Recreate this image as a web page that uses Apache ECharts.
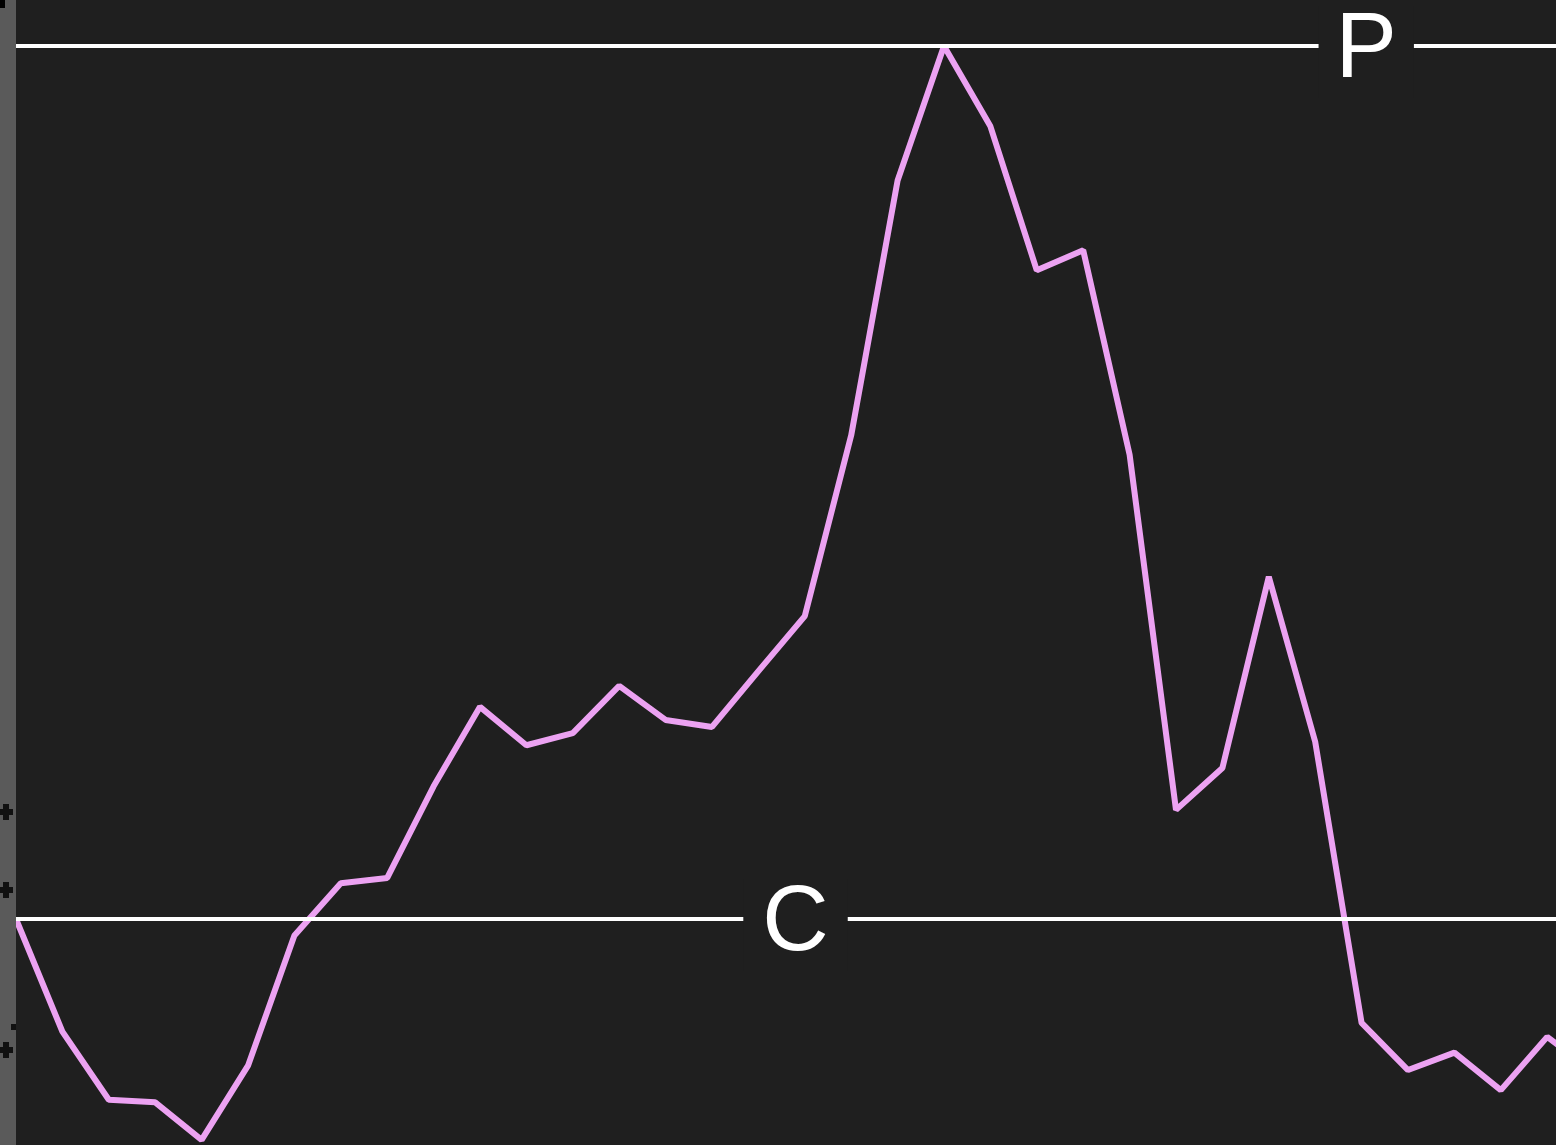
<!DOCTYPE html>
<html>
<head>
<meta charset="utf-8">
<script src="https://cdn.jsdelivr.net/npm/echarts@6/dist/echarts.min.js"></script>
<style>
html,body{margin:0;padding:0;background:#1f1f1f;}
#c{width:1556px;height:1145px;}
</style>
</head>
<body>
<div id="c"></div>
<script>
// x positions (sample index) and values in % of the C→P range (C = 0, P = 100)
const steps = [0,1,2,3,4,5,6,7,8,9,10,11,12,13,14,15,16,17,18,19,20,21,22,23,24,25,26,27,28,29,30,31,32,33,34];
const values = [0,-12.9,-20.7,-21.0,-25.3,-16.8,-1.9,4.1,4.7,15.2,24.3,19.9,21.3,26.7,22.8,22.0,28.4,34.7,55.4,84.6,100,90.8,74.3,76.6,53.2,12.5,17.3,39.2,20.3,-11.9,-17.3,-15.3,-19.6,-13.5,-17.5];
const levelNames = ['C','P'];
const levelValues = [0,100];
const labelAt = [16.8, 29.1];
const labelPad = [19, 17];

const chart = echarts.init(document.getElementById('c'));
const bg = '#1f1f1f';
const crosses = [];
[[5,812],[5,890],[5,1050]].forEach(function(p){
  crosses.push({type:'rect',shape:{x:p[0]-6,y:p[1]-3,width:14,height:6},style:{fill:'#111'},z:10});
  crosses.push({type:'rect',shape:{x:p[0]-2,y:p[1]-8,width:6,height:16},style:{fill:'#111'},z:10});
});
crosses.push({type:'rect',shape:{x:11,y:1024,width:5,height:6},style:{fill:'#111'},z:10});
crosses.push({type:'rect',shape:{x:0,y:0,width:5,height:8},style:{fill:'#000'},z:10});

chart.setOption({
  backgroundColor: bg,
  animation: false,
  graphic: [{type:'rect',shape:{x:0,y:0,width:16,height:1145},style:{fill:'#5a5a5a'},z:9}].concat(crosses),
  grid: {left:16, top:46, right:0, height:873},
  xAxis: {type:'value', min:0, max:1540/46.4, show:false},
  yAxis: {type:'value', min:0, max:100, show:false},
  series: [
    {
      type:'line',
      data: steps.map(function(s,i){return [s, values[i]];}),
      showSymbol:false,
      clip:false,
      z:2,
      lineStyle:{color:'#eca2f2', width:6},
      itemStyle:{color:'#eca2f2'}
    },
    {
      type:'line',
      data:[[0,0]],
      showSymbol:false,
      lineStyle:{opacity:0},
      z:5,
      markLine:{
        silent:true,
        symbol:['none','none'],
        label:{show:false},
        lineStyle:{color:'#ffffff', width:4, type:'solid'},
        data: levelValues.map(function(v){return {yAxis:v};})
      },
      markPoint:{
        silent:true,
        symbol:'circle',
        symbolSize:0,
        data: levelValues.map(function(v,i){
          return {
            coord:[labelAt[i], v],
            label:{
              show:true,
              position:'inside',
              formatter: levelNames[i],
              color:'#ffffff',
              fontSize:92,
              fontFamily:'Liberation Sans, Arial, sans-serif',
              backgroundColor:bg,
              padding:[0,labelPad[i],0,labelPad[i]],
              offset:[0,6]
            }
          };
        })
      }
    }
  ]
});
</script>
</body>
</html>
